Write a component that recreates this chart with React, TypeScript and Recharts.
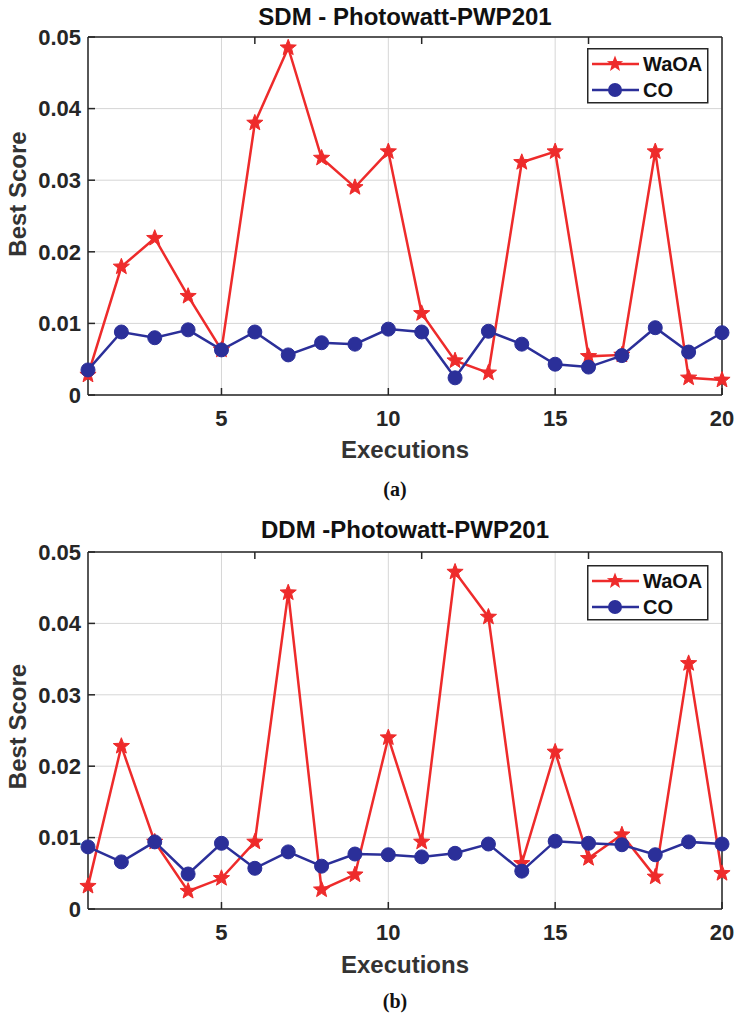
import React from 'react'
import { LineChart, Line, XAxis, YAxis, CartesianGrid, Legend, Label } from 'recharts'

const executions = [1, 2, 3, 4, 5, 6, 7, 8, 9, 10, 11, 12, 13, 14, 15, 16, 17, 18, 19, 20]
const sdmWaoa = [0.0028, 0.0179, 0.0219, 0.0138, 0.0063, 0.038, 0.0485, 0.0331, 0.029, 0.034, 0.0114, 0.0048, 0.0031, 0.0325, 0.034, 0.0054, 0.0056, 0.034, 0.0024, 0.0021]
const sdmCo = [0.0035, 0.0088, 0.008, 0.0091, 0.0063, 0.0088, 0.0056, 0.0073, 0.0071, 0.0092, 0.0088, 0.0024, 0.0089, 0.0071, 0.0043, 0.0039, 0.0055, 0.0094, 0.006, 0.0087]
const ddmWaoa = [0.0032, 0.0228, 0.0094, 0.0025, 0.0043, 0.0094, 0.0443, 0.0027, 0.0048, 0.024, 0.0094, 0.0472, 0.0409, 0.0064, 0.022, 0.0071, 0.0104, 0.0045, 0.0344, 0.005]
const ddmCo = [0.0087, 0.0066, 0.0094, 0.0049, 0.0092, 0.0057, 0.008, 0.006, 0.0077, 0.0076, 0.0073, 0.0078, 0.0091, 0.0053, 0.0095, 0.0092, 0.009, 0.0076, 0.0094, 0.0091]
const xTicks = [5, 10, 15, 20]
const yTicks = [0, 0.01, 0.02, 0.03, 0.04, 0.05]
const seriesNames = ['WaOA', 'CO']

const RED = '#ee2b2b'
const BLUE = '#2b2f99'
const INK = '#262626'
const SANS = '"Liberation Sans", Arial, sans-serif'

function starPoints(cx: number, cy: number, outer: number, inner: number) {
  const pts: string[] = []
  for (let k = 0; k < 10; k++) {
    const r = k % 2 === 0 ? outer : inner
    const a = -Math.PI / 2 + (k * Math.PI) / 5
    pts.push(`${cx + r * Math.cos(a)},${cy + r * Math.sin(a)}`)
  }
  return pts.join(' ')
}

const StarDot = (p: any) => {
  if (p.cx == null || p.cy == null) return <g key={`s-${p.index}`} />
  return <polygon key={`s-${p.index}`} points={starPoints(p.cx, p.cy, 8.5, 3.6)} fill={RED} stroke={RED} strokeWidth={1} />
}

const CircleDot = (p: any) => {
  if (p.cx == null || p.cy == null) return <g key={`c-${p.index}`} />
  return <circle key={`c-${p.index}`} cx={p.cx} cy={p.cy} r={7} fill={BLUE} stroke={BLUE} strokeWidth={1} />
}

const NoLabel = () => <g />

const LegendBox = () => (
  <svg width={122} height={56} style={{ display: 'block' }}>
    <rect x={0.75} y={0.75} width={120} height={54} fill="#fff" stroke={INK} strokeWidth={1.5} />
    <line x1={5} x2={52} y1={16} y2={16} stroke={RED} strokeWidth={2.5} />
    <polygon points={starPoints(28, 16, 8.5, 3.6)} fill={RED} />
    <text x={56} y={16} dominantBaseline="central" fontFamily={SANS} fontWeight="bold" fontSize={20} fill="#111">{seriesNames[0]}</text>
    <line x1={5} x2={52} y1={42} y2={42} stroke={BLUE} strokeWidth={2.5} />
    <circle cx={28} cy={42} r={7} fill={BLUE} />
    <text x={56} y={42} dominantBaseline="central" fontFamily={SANS} fontWeight="bold" fontSize={20} fill="#111">{seriesNames[1]}</text>
  </svg>
)

interface PanelProps {
  title: string
  caption: string
  waoa: number[]
  co: number[]
  height: number
  top: number
  bottom: number
  titleOffset: number
  xLabelOffset: number
  captionOffset: number
  yLabelDy: number
  legendTop: number
}

function Panel(p: PanelProps) {
  const data = executions.map((run, i) => ({ run, waoa: p.waoa[i], co: p.co[i] }))
  const tickStyle = { fill: INK, fontSize: 22, fontWeight: 'bold', fontFamily: SANS }
  return (
    <LineChart width={738} height={p.height} data={data} margin={{ top: p.top, right: 15, left: 28, bottom: p.bottom }}>
      <CartesianGrid stroke="#d6d6d6" strokeWidth={1} />
      <XAxis
        dataKey="run"
        type="number"
        domain={[1, 20]}
        ticks={xTicks}
        height={30}
        tickSize={-7}
        tickMargin={22}
        stroke={INK}
        strokeWidth={1.5}
        tick={tickStyle}
        interval={0}
      >
        <Label value="Executions" position="bottom" offset={p.xLabelOffset} fill="#333" fontSize={24} fontWeight="bold" fontFamily={SANS} />
        <Label value={p.caption} position="bottom" offset={p.captionOffset} dx={-10} fill="#111" fontSize={20} fontWeight="bold" fontFamily='"Liberation Serif", serif' />
      </XAxis>
      <XAxis
        xAxisId="t"
        orientation="top"
        type="number"
        domain={[1, 20]}
        ticks={xTicks}
        height={1}
        tickSize={-7}
        tick={NoLabel}
        stroke={INK}
        strokeWidth={1.5}
      >
        <Label value={p.title} position="top" offset={p.titleOffset} fill="#111" fontSize={24} fontWeight="bold" fontFamily={SANS} />
      </XAxis>
      <YAxis
        domain={[0, 0.05]}
        ticks={yTicks}
        width={60}
        tickSize={-7}
        tickMargin={14}
        stroke={INK}
        strokeWidth={1.5}
        tick={tickStyle}
        interval={0}
        tickFormatter={(v: number) => (v === 0 ? '0' : v.toFixed(2))}
      >
        <Label value="Best Score" position="center" angle={-90} dx={-41} dy={p.yLabelDy} fill="#333" fontSize={24} fontWeight="bold" fontFamily={SANS} />
      </YAxis>
      <YAxis
        yAxisId="r"
        orientation="right"
        domain={[0, 0.05]}
        ticks={yTicks}
        width={1}
        tickSize={-7}
        tick={NoLabel}
        stroke={INK}
        strokeWidth={1.5}
      />
      <Legend
        layout="vertical"
        align="center"
        verticalAlign="middle"
        content={() => <LegendBox />}
        wrapperStyle={{ position: 'absolute', left: 587, top: p.legendTop, width: 122, height: 56 }}
      />
      <Line dataKey="waoa" name={seriesNames[0]} stroke={RED} strokeWidth={2.5} dot={StarDot} isAnimationActive={false} />
      <Line dataKey="co" name={seriesNames[1]} stroke={BLUE} strokeWidth={2.5} dot={CircleDot} isAnimationActive={false} />
    </LineChart>
  )
}

export default function App() {
  return (
    <div style={{ position: 'absolute', left: 0, top: 0, width: 738, height: 1019, background: '#fff' }}>
      <Panel
        title="SDM - Photowatt-PWP201"
        caption="(a)"
        waoa={sdmWaoa}
        co={sdmCo}
        height={510}
        top={36}
        bottom={85}
        titleOffset={11}
        xLabelOffset={16}
        captionOffset={57}
        yLabelDy={-22}
        legendTop={48}
      />
      <Panel
        title="DDM -Photowatt-PWP201"
        caption="(b)"
        waoa={ddmWaoa}
        co={ddmCo}
        height={509}
        top={41}
        bottom={80}
        titleOffset={13}
        xLabelOffset={17}
        captionOffset={55}
        yLabelDy={-4}
        legendTop={55}
      />
    </div>
  )
}
